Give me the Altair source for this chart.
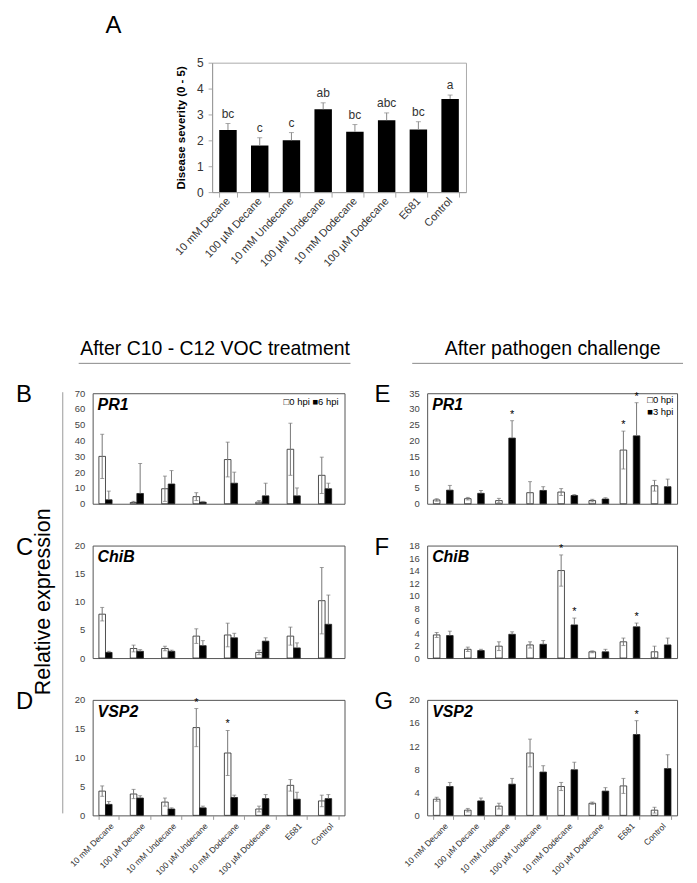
import altair as alt
import pandas as pd

FONT = "Liberation Sans"

categories = ["10 mM Decane", "100 µM Decane", "10 mM Undecane", "100 µM Undecane",
              "10 mM Dodecane", "100 µM Dodecane", "E681", "Control"]

# Panel A: disease severity
severity = [2.40, 1.80, 2.00, 3.20, 2.33, 2.78, 2.42, 3.60]
severity_err = [0.25, 0.30, 0.30, 0.25, 0.28, 0.28, 0.30, 0.15]
severity_letters = ["bc", "c", "c", "ab", "bc", "abc", "bc", "a"]

series_voc = ["0 hpi", "6 hpi"]
series_path = ["0 hpi", "3 hpi"]
series_all = ["0 hpi", "6 hpi", "3 hpi"]
series_fill = ["white", "black", "black"]

# Panel B: PR1 after VOC treatment
pr1_voc_0 = [30.0, 0.8, 9.5, 4.5, 28.0, 1.0, 34.5, 18.0]
pr1_voc_0_err = [14.0, 0.7, 8.0, 2.5, 11.0, 1.0, 16.5, 11.5]
pr1_voc_6 = [2.5, 6.5, 12.5, 1.0, 13.0, 5.0, 5.0, 9.5]
pr1_voc_6_err = [5.5, 19.0, 8.5, 0.5, 7.0, 8.0, 5.0, 3.5]

# Panel C: ChiB after VOC treatment
chib_voc_0 = [7.8, 1.7, 1.7, 3.9, 4.1, 1.0, 3.9, 10.2]
chib_voc_0_err = [1.2, 0.6, 0.4, 1.3, 2.1, 0.4, 1.6, 5.9]
chib_voc_6 = [1.0, 1.2, 1.2, 2.2, 3.6, 3.0, 1.8, 6.0]
chib_voc_6_err = [0.2, 0.3, 0.2, 0.9, 0.8, 0.6, 0.9, 5.2]

# Panel D: VSP2 after VOC treatment
vsp2_voc_0 = [4.2, 3.7, 2.3, 15.2, 10.8, 1.1, 5.2, 2.5]
vsp2_voc_0_err = [0.9, 0.8, 0.7, 3.3, 3.9, 0.5, 1.0, 1.0]
vsp2_voc_6 = [1.9, 3.0, 1.1, 1.3, 3.1, 2.9, 2.8, 2.9]
vsp2_voc_6_err = [0.5, 0.4, 0.2, 0.3, 0.4, 0.7, 1.2, 0.7]
vsp2_voc_star0 = [0, 0, 0, 1, 1, 0, 0, 0]

# Panel E: PR1 after pathogen challenge
pr1_path_0 = [1.2, 1.6, 1.0, 3.5, 3.7, 1.0, 17.0, 5.7]
pr1_path_0_err = [0.4, 0.4, 0.7, 3.5, 1.1, 0.4, 6.0, 1.7]
pr1_path_3 = [4.3, 3.3, 20.8, 4.2, 2.6, 1.5, 21.5, 5.4]
pr1_path_3_err = [1.5, 0.9, 5.5, 1.2, 0.3, 0.4, 10.5, 2.4]
pr1_path_star0 = [0, 0, 0, 0, 0, 0, 1, 0]
pr1_path_star3 = [0, 0, 1, 0, 0, 0, 1, 0]

# Panel F: ChiB after pathogen challenge
chib_path_0 = [3.7, 1.4, 1.9, 2.1, 14.0, 1.0, 2.6, 1.0]
chib_path_0_err = [0.4, 0.35, 0.7, 0.5, 2.5, 0.15, 0.6, 0.9]
chib_path_3 = [3.6, 1.2, 3.8, 2.2, 5.3, 1.0, 5.0, 2.1]
chib_path_3_err = [0.7, 0.2, 0.4, 0.6, 1.1, 0.4, 0.6, 1.1]
chib_path_star0 = [0, 0, 0, 0, 1, 0, 0, 0]
chib_path_star3 = [0, 0, 0, 0, 1, 0, 1, 0]

# Panel G: VSP2 after pathogen challenge
vsp2_path_0 = [2.8, 0.9, 1.6, 10.8, 5.0, 2.1, 5.1, 0.9]
vsp2_path_0_err = [0.35, 0.3, 0.5, 2.4, 0.7, 0.2, 1.3, 0.5]
vsp2_path_3 = [5.0, 2.5, 5.4, 7.5, 7.9, 4.2, 14.0, 8.1]
vsp2_path_3_err = [0.7, 0.5, 1.0, 1.1, 1.3, 0.6, 2.4, 2.4]
vsp2_path_star3 = [0, 0, 0, 0, 0, 0, 1, 0]

NO_STARS = [0] * 8


def txt(text, x, y, **kw):
    return alt.Chart(pd.DataFrame({"t": [text]})).mark_text(**kw).encode(
        x=alt.value(x), y=alt.value(y), text="t:N")


def rule(x, y, x2=None, y2=None, **kw):
    enc = dict(x=alt.value(x), y=alt.value(y))
    if x2 is not None:
        enc["x2"] = alt.value(x2)
    if y2 is not None:
        enc["y2"] = alt.value(y2)
    return alt.Chart(pd.DataFrame({"a": [0]})).mark_rule(**kw).encode(**enc)


def panel(gene, series, v0, e0, v1, e1, st0, st1, ymax, yticks, width, height,
          show_labels, extras):
    n = len(categories)
    ser = [series[0]] * n + [series[1]] * n
    vals = v0 + v1
    errs = e0 + e1
    df = pd.DataFrame({
        "cat": categories + categories,
        "ser": ser,
        "v": vals,
        "e": errs,
        "star": ["*" if s else "" for s in st0 + st1],
    })
    df["hi"] = df["v"] + df["e"]
    df["lo"] = [max(0.0, v - e) if s == series[0] else v for v, e, s in zip(vals, errs, ser)]

    if show_labels:
        xaxis = alt.Axis(labelAngle=-45, labelFontSize=8.5, labelColor="#333", ticks=True,
                         tickBand="extent", tickSize=4, tickColor="#999", domain=False,
                         labelPadding=2)
    else:
        xaxis = None
    x = alt.X("cat:N", sort=categories, title=None,
              scale=alt.Scale(paddingInner=0.37, paddingOuter=0.2), axis=xaxis)
    xo = alt.XOffset("ser:N", sort=series, scale=alt.Scale(paddingInner=0, paddingOuter=0))
    ysc = alt.Scale(domain=[0, ymax], nice=False, zero=True)
    yax = alt.Axis(values=yticks, grid=False, ticks=False, domain=False,
                   labelFontSize=9.5, labelColor="#444", labelPadding=8)

    def Y(f):
        return alt.Y(f, title=None, scale=ysc, axis=yax)

    base = alt.Chart(df).encode(x=x, xOffset=xo)
    bars = base.mark_bar(stroke="#222", strokeWidth=0.8).encode(
        y=Y("v:Q"),
        fill=alt.Fill("ser:N", scale=alt.Scale(domain=series_all, range=series_fill),
                      legend=None))
    err = base.mark_rule(color="#777", strokeWidth=1).encode(y=Y("lo:Q"), y2="hi:Q")
    cap_hi = base.mark_tick(orient="horizontal", size=4, thickness=1, color="#777").encode(
        y=Y("hi:Q"))
    cap_lo = base.mark_tick(orient="horizontal", size=4, thickness=1, color="#777").encode(
        y=Y("lo:Q")).transform_filter(alt.datum.ser == series[0])
    stars = base.mark_text(baseline="bottom", dy=-1, fontSize=11, color="black").encode(
        y=Y("hi:Q"), text="star:N").transform_filter(alt.datum.star != "")
    gene_t = txt(gene, 5, 4, align="left", baseline="top", fontSize=16,
                 fontWeight="bold", fontStyle="italic")
    layers = [bars, err, cap_hi, cap_lo, stars, gene_t] + extras
    return alt.layer(*layers).properties(
        width=width, height=height,
        view=alt.ViewBackground(stroke="#555", strokeWidth=1))


# ---------------- Panel A ----------------
dfA = pd.DataFrame({"cat": categories, "v": severity, "e": severity_err, "lab": severity_letters})
dfA["hi"] = dfA["v"] + dfA["e"]
ysA = alt.Scale(domain=[0, 5], nice=False)
axA = alt.Axis(values=[0, 1, 2, 3, 4, 5], grid=False, labelFontSize=12,
               labelColor="#333", tickSize=4, tickColor="#aaa", domainColor="#999",
               labelPadding=5, titleFontSize=11.5, titleFontWeight="bold",
               titlePadding=10)
titleA = "Disease severity (0 - 5)"


def YA(f):
    return alt.Y(f, scale=ysA, title=titleA, axis=axA)


xA = alt.X("cat:N", sort=categories, title=None,
           scale=alt.Scale(paddingInner=0.45, paddingOuter=0.225),
           axis=alt.Axis(labelAngle=-47, labelFontSize=11, labelColor="#333", tickBand="extent",
                         tickSize=5, tickColor="#aaa", domainColor="#999", labelPadding=2))
baseA = alt.Chart(dfA).encode(x=xA)
barsA = baseA.mark_bar(color="black").encode(y=YA("v:Q"))
errA = baseA.mark_rule(color="#888").encode(y=YA("v:Q"), y2="hi:Q")
capA = baseA.mark_tick(orient="horizontal", size=5, thickness=1, color="#888").encode(
    y=YA("hi:Q"))
labA = baseA.mark_text(baseline="bottom", dy=-3, fontSize=12, color="#333").encode(
    y=YA("hi:Q"), text="lab:N")
letterA = txt("A", -107, -30, align="left", baseline="alphabetic", fontSize=24)
panelA = alt.layer(barsA, errA, capA, labA, letterA).properties(
    width=255, height=130, view=alt.ViewBackground(stroke="#aaa", strokeWidth=1))

spacer = alt.Chart(pd.DataFrame({"a": [0]})).mark_rule(strokeOpacity=0).encode(
    x=alt.value(1), y=alt.value(1), y2=alt.value(2)).properties(
    width=90, height=10, view=alt.ViewBackground(stroke="transparent"))

row1 = alt.hconcat(spacer, panelA, spacing=0)

# ---------------- Lower panels ----------------
LW, RW = 253, 251
H1, H2, H3 = 111, 113, 116
PAD = 22          # invisible top pad on the lower panels
LBL = 6           # the bottom y label reaches this far below each panel
GAP = 14          # spacing between stacked panels
RX = -53          # letters of the right column, relative to plot origin
LETTER_Y = 2


def top_pad():
    return rule(0, -PAD, y2=0, strokeOpacity=0)


def letter(t):
    return txt(t, RX, LETTER_Y, align="left", baseline="middle", fontSize=24)


pB = panel("PR1", series_voc, pr1_voc_0, pr1_voc_0_err, pr1_voc_6, pr1_voc_6_err,
           NO_STARS, NO_STARS, 70, list(range(0, 71, 10)), LW, H1, False,
           [txt("After C10 - C12 VOC treatment", 123, -38, align="center",
                baseline="alphabetic", fontSize=19.5),
            rule(-14, -30, x2=259, color="#888", strokeWidth=1),
            txt("□0 hpi  ■6 hpi", LW - 6, 9, align="right", baseline="middle", fontSize=9.5)])
pC = panel("ChiB", series_voc, chib_voc_0, chib_voc_0_err, chib_voc_6, chib_voc_6_err,
           NO_STARS, NO_STARS, 20, [0, 5, 10, 15, 20], LW, H2, False, [top_pad()])
pD = panel("VSP2", series_voc, vsp2_voc_0, vsp2_voc_0_err, vsp2_voc_6, vsp2_voc_6_err,
           vsp2_voc_star0, NO_STARS, 20, [0, 5, 10, 15, 20], LW, H3, True, [top_pad()])

pE = panel("PR1", series_path, pr1_path_0, pr1_path_0_err, pr1_path_3, pr1_path_3_err,
           pr1_path_star0, pr1_path_star3, 35, list(range(0, 36, 5)), RW, H1, False,
           [txt("After pathogen challenge", 126, -38, align="center",
                baseline="alphabetic", fontSize=19.5),
            rule(-15, -30, x2=257, color="#888", strokeWidth=1),
            txt("□0 hpi", 221, 7, align="left", baseline="middle", fontSize=9.5),
            txt("■3 hpi", 221, 19, align="left", baseline="middle", fontSize=9.5),
            letter("E")])
pF = panel("ChiB", series_path, chib_path_0, chib_path_0_err, chib_path_3, chib_path_3_err,
           chib_path_star0, chib_path_star3, 18, list(range(0, 19, 2)), RW, H2, False,
           [top_pad(), letter("F")])
pG = panel("VSP2", series_path, vsp2_path_0, vsp2_path_0_err, vsp2_path_3, vsp2_path_3_err,
           NO_STARS, vsp2_path_star3, 20, [0, 4, 8, 12, 16, 20], RW, H3, True,
           [top_pad(), letter("G")])

# side strip on the left (its origin lines up with panel B's plot origin):
# panel letters, shared y title and the vertical line
C_TOP = H1 + LBL + GAP + PAD
D_TOP = C_TOP + H2 + LBL + GAP + PAD
side = alt.layer(
    rule(49, -1, y2=D_TOP + H3 - 2, color="#999", strokeWidth=1),
    txt("Relative expression", 30, C_TOP + H2 / 2, align="center", baseline="middle",
        angle=270, fontSize=21.5),
    txt("B", 2, LETTER_Y, align="left", baseline="middle", fontSize=24),
    txt("C", 2, C_TOP + LETTER_Y, align="left", baseline="middle", fontSize=24),
    txt("D", 2, D_TOP + LETTER_Y, align="left", baseline="middle", fontSize=24),
).properties(width=50, height=D_TOP + H3, view=alt.ViewBackground(stroke="transparent"))

left = alt.vconcat(pB, pC, pD, spacing=GAP)
right = alt.vconcat(pE, pF, pG, spacing=GAP)
row2 = alt.hconcat(alt.hconcat(side, left, spacing=2), right, spacing=22)

chart = alt.vconcat(row1, row2, spacing=70).properties(
    padding={"left": 5, "top": 3, "right": 5, "bottom": 2}
).configure(font=FONT).configure_view(stroke="transparent")

chart.save("out.html", embed_options={"renderer": "svg", "actions": False})
